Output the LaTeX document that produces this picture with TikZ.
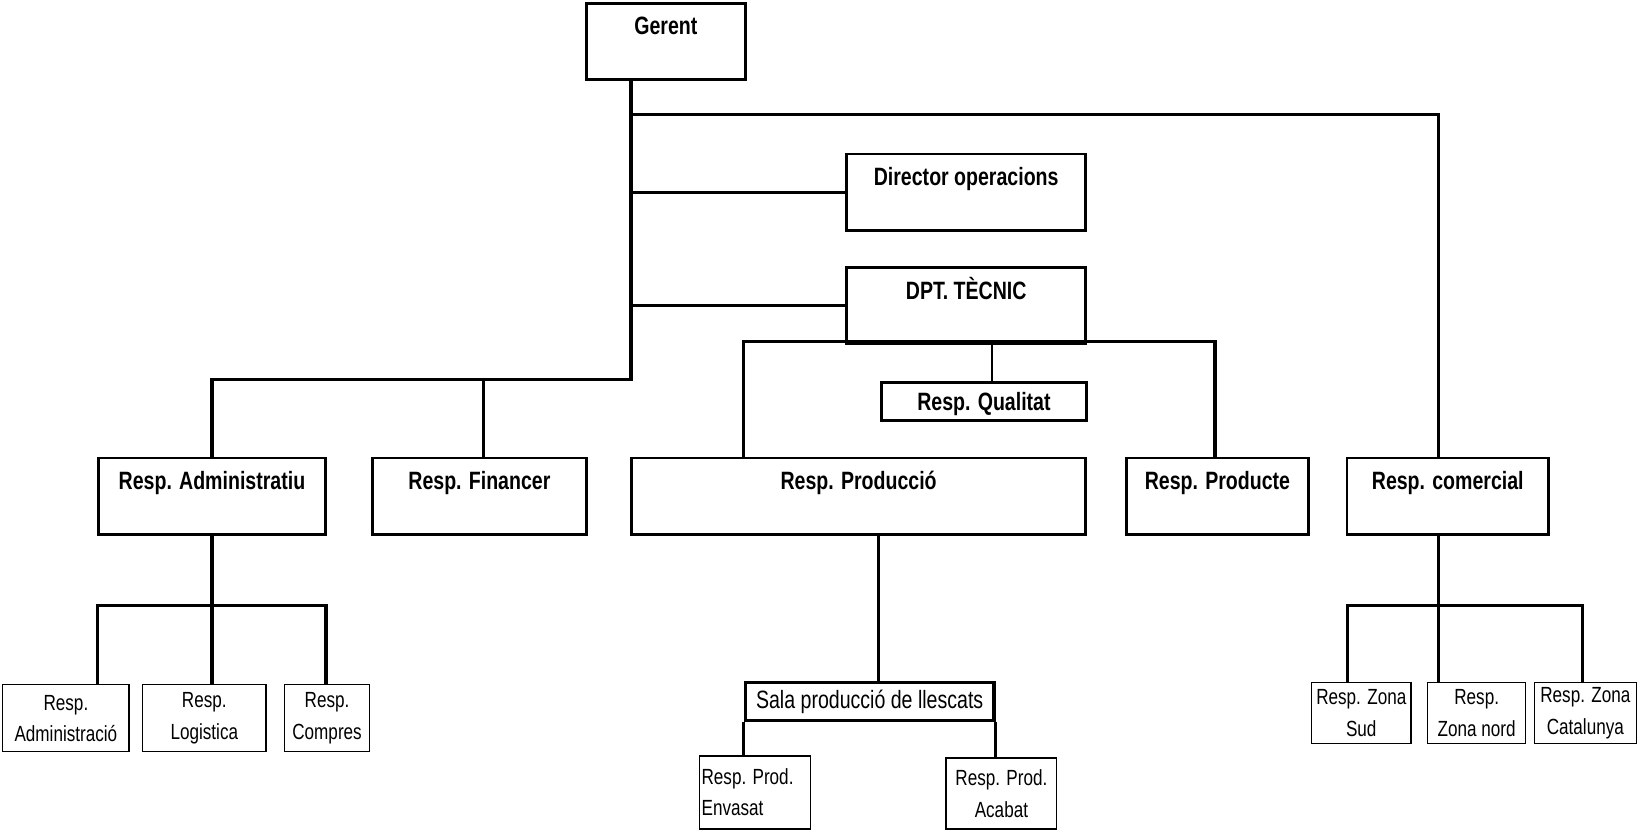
\documentclass[tikz,border=0pt]{standalone}
\usepackage{fontspec}
\setmainfont{Liberation Sans}[FakeStretch=0.78]
\begin{document}
\begin{tikzpicture}[x=0.5pt,y=-0.5pt,
  bbox/.style={draw, line width=1.4pt, anchor=north west, inner sep=0pt,
    font=\fontsize{12}{14}\selectfont\bfseries, text height=15pt},
  sbox/.style={draw, line width=0.6pt, anchor=north west, inner sep=0.5pt,
    align=center, font=\fontsize{10.5}{15}\selectfont},
  conn/.style={line width=1.5pt},
  thin/.style={line width=1pt}]
\useasboundingbox (0,0) rectangle (1568,796);

% top levels
\node[bbox, minimum width=76pt, text depth=21.5pt] (gerent) at (560,2) {Gerent};
\node[bbox, minimum width=114.5pt, text depth=21.5pt] (dir) at (809,146) {Director operacions};
\node[bbox, minimum width=114.5pt, text depth=21pt] (dpt) at (809,255) {DPT. TÈCNIC};
\node[bbox, minimum width=98.5pt, minimum height=18pt, text height=8.6pt, text depth=0pt] (qual) at (842,365) {Resp. Qualitat};

% second row
\node[bbox, minimum width=108.5pt, text depth=21.5pt] (admin) at (93,437) {Resp. Administratiu};
\node[bbox, minimum width=102.5pt, text depth=21.5pt] (fin) at (355,437) {Resp. Financer};
\node[bbox, minimum width=217.5pt, text depth=21.5pt] (prod) at (603,437) {Resp. Producció};
\node[bbox, minimum width=87pt, text depth=21.5pt] (pte) at (1077,437) {Resp. Producte};
\node[bbox, minimum width=96.5pt, text depth=21.5pt] (com) at (1288,437) {Resp. comercial};

% bottom row
\node[sbox, minimum width=60.5pt, minimum height=32pt] (adm) at (2,655) {Resp.\\Administració};
\node[sbox, minimum width=59pt, minimum height=32pt] (log) at (136,655) {Resp.\\Logistica};
\node[sbox, minimum width=40.5pt, minimum height=32pt] (comp) at (272,655) {Resp.\\Compres};
\node[sbox, line width=1.5pt, minimum width=119pt, minimum height=18pt, inner sep=2pt,
      font=\fontsize{12}{14}\selectfont] (sala) at (712,652) {Sala producció de llescats};
\node[sbox, minimum height=35pt, align=flush left, text width=51pt, inner sep=1pt] (env) at (669,723) {Resp. Prod.\\Envasat};
\node[sbox, minimum width=53pt, minimum height=34pt] (acab) at (905,725) {Resp. Prod.\\Acabat};
\node[sbox, minimum width=47.5pt, minimum height=29pt] (sud) at (1255,653) {Resp. Zona\\Sud};
\node[sbox, minimum width=47pt, minimum height=29pt] (nord) at (1366,653) {Resp.\\Zona nord};
\node[sbox, minimum width=49pt, minimum height=29pt] (cat) at (1468,653) {Resp. Zona\\Catalunya};

% junction points
\coordinate (tr) at (604,363);
\coordinate (hj) at (604,110);
\coordinate (cj) at (1377,110);
\coordinate (fj) at (463,363);
\coordinate (d1) at (712,327);
\coordinate (d2) at (1163,327);
\coordinate (q) at (950,327);
\coordinate (pj) at (841,560);
\coordinate (a1) at (93,580);
\coordinate (a2) at (203,580);
\coordinate (a3) at (312,580);
\coordinate (c1) at (1290,580);
\coordinate (c2) at (1377,580);
\coordinate (c3) at (1515,580);

% connectors
\draw[conn] (gerent.south -| tr) -- (tr) -| (admin.north -| a2);
\draw[conn] (fj) -- (fj |- fin.north);
\draw[conn] (hj) -- (cj) -- (cj |- com.north);
\draw[conn] (dir.west -| tr) -- (dir.west);
\draw[conn] (dpt.west -| tr) -- (dpt.west);
\draw[conn] (d1 |- prod.north) -- (d1) -- (d2) -- (d2 |- pte.north);
\draw[thin] (q) -- (q |- qual.north);
\draw[conn] (prod.south -| pj) -- (sala.north -| pj);
\draw[conn] (sala.south west) -- (sala.south west |- env.north);
\draw[conn] (sala.south east) -- (sala.south east |- acab.north);
\draw[conn] (admin.south -| a2) -- (a2);
\draw[conn] (a1 |- adm.north) -- (a1) -- (a3) -- (a3 |- comp.north);
\draw[conn] (a2) -- (a2 |- log.north);
\draw[conn] (com.south -| c2) -- (c2);
\draw[conn] (c1 |- sud.north) -- (c1) -- (c3) -- (c3 |- cat.north);
\draw[conn] (c2) -- (c2 |- nord.north);
\end{tikzpicture}
\end{document}
